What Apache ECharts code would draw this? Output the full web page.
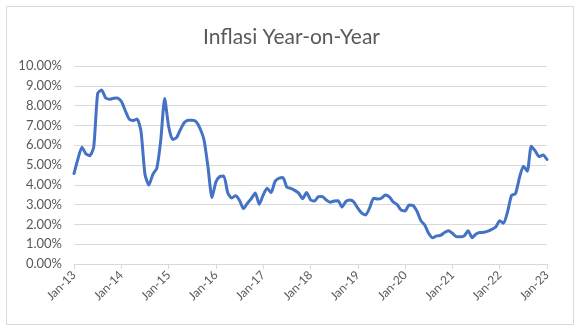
<!DOCTYPE html>
<html>
<head>
<meta charset="utf-8">
<script src="https://cdn.jsdelivr.net/npm/echarts@6/dist/echarts.min.js"></script>
<style>
  html, body { margin: 0; padding: 0; background: #ffffff; }
  #chart { width: 583px; height: 331px; }
</style>
</head>
<body>
<div id="chart"></div>
<script>
// Monthly year-on-year inflation (%), Jan 2013 .. Jan 2023
const years = ['13', '14', '15', '16', '17', '18', '19', '20', '21', '22', '23'];
const monthNames = ['Jan', 'Feb', 'Mar', 'Apr', 'May', 'Jun', 'Jul', 'Aug', 'Sep', 'Oct', 'Nov', 'Dec'];

const infl2013 = [4.57, 5.31, 5.90, 5.57, 5.47, 5.90, 8.61, 8.79, 8.40, 8.32, 8.37, 8.38];
const infl2014 = [8.22, 7.75, 7.32, 7.25, 7.32, 6.70, 4.53, 3.99, 4.53, 4.83, 6.23, 8.36];
const infl2015 = [6.96, 6.29, 6.38, 6.79, 7.15, 7.26, 7.26, 7.18, 6.83, 6.25, 4.89, 3.35];
const infl2016 = [4.14, 4.42, 4.45, 3.60, 3.33, 3.45, 3.21, 2.79, 3.07, 3.31, 3.58, 3.02];
const infl2017 = [3.49, 3.83, 3.61, 4.17, 4.33, 4.37, 3.88, 3.82, 3.72, 3.58, 3.30, 3.61];
const infl2018 = [3.25, 3.18, 3.40, 3.41, 3.23, 3.12, 3.18, 3.20, 2.88, 3.16, 3.23, 3.13];
const infl2019 = [2.82, 2.57, 2.48, 2.83, 3.32, 3.28, 3.32, 3.49, 3.39, 3.13, 3.00, 2.72];
const infl2020 = [2.68, 2.98, 2.96, 2.67, 2.19, 1.96, 1.54, 1.32, 1.42, 1.44, 1.59, 1.68];
const infl2021 = [1.55, 1.38, 1.37, 1.42, 1.68, 1.33, 1.52, 1.59, 1.60, 1.66, 1.75, 1.87];
const infl2022 = [2.18, 2.06, 2.64, 3.47, 3.55, 4.35, 4.94, 4.69, 5.95, 5.71, 5.42, 5.51];
const infl2023 = [5.28];

const yTickMin = 0;
const yTickMax = 10;
const yTickStep = 1;

const series = [].concat(infl2013, infl2014, infl2015, infl2016, infl2017, infl2018,
  infl2019, infl2020, infl2021, infl2022, infl2023);

const months = [];
years.forEach(function (y) {
  monthNames.forEach(function (m) { months.push(m + '-' + y); });
});
months.length = series.length;

const FONT = 'Lato, "Open Sans", sans-serif';
const chart = echarts.init(document.getElementById('chart'), null, { renderer: 'canvas' });

chart.setOption({
  animation: false,
  backgroundColor: '#ffffff',
  title: {
    text: 'Inflasi Year-on-Year',
    left: 'center',
    top: 22,
    textStyle: { fontFamily: FONT, fontSize: 21, fontWeight: 'normal', color: '#595959' }
  },
  graphic: [{
    type: 'rect',
    shape: { x: 6.5, y: 6.5, width: 567, height: 318 },
    style: { fill: null, stroke: '#d9d9d9', lineWidth: 1 },
    silent: true
  }],
  grid: { left: 74, right: 36, top: 66, bottom: 67, containLabel: false },
  xAxis: {
    type: 'category',
    data: months,
    boundaryGap: false,
    axisLine: { lineStyle: { color: '#d9d9d9', width: 1 } },
    axisTick: {
      show: true,
      length: 5,
      interval: function (i) { return i % 12 === 0; },
      lineStyle: { color: '#d9d9d9' }
    },
    axisLabel: {
      interval: function (i) { return i % 12 === 0; },
      rotate: 45,
      margin: 9,
      fontFamily: FONT,
      fontSize: 12,
      color: '#595959'
    },
    splitLine: { show: false }
  },
  yAxis: {
    type: 'value',
    min: yTickMin,
    max: yTickMax,
    interval: yTickStep,
    axisLine: { show: false },
    axisTick: { show: false },
    axisLabel: {
      formatter: function (v) { return v.toFixed(2) + '%'; },
      margin: 12,
      fontFamily: FONT,
      fontSize: 13,
      color: '#595959'
    },
    splitLine: { lineStyle: { color: '#d9d9d9', width: 1 } }
  },
  series: [{
    type: 'line',
    data: series,
    smooth: 0.2,
    symbol: 'none',
    lineStyle: { color: '#4472C4', width: 3, cap: 'round', join: 'round' }
  }]
});
</script>
</body>
</html>
